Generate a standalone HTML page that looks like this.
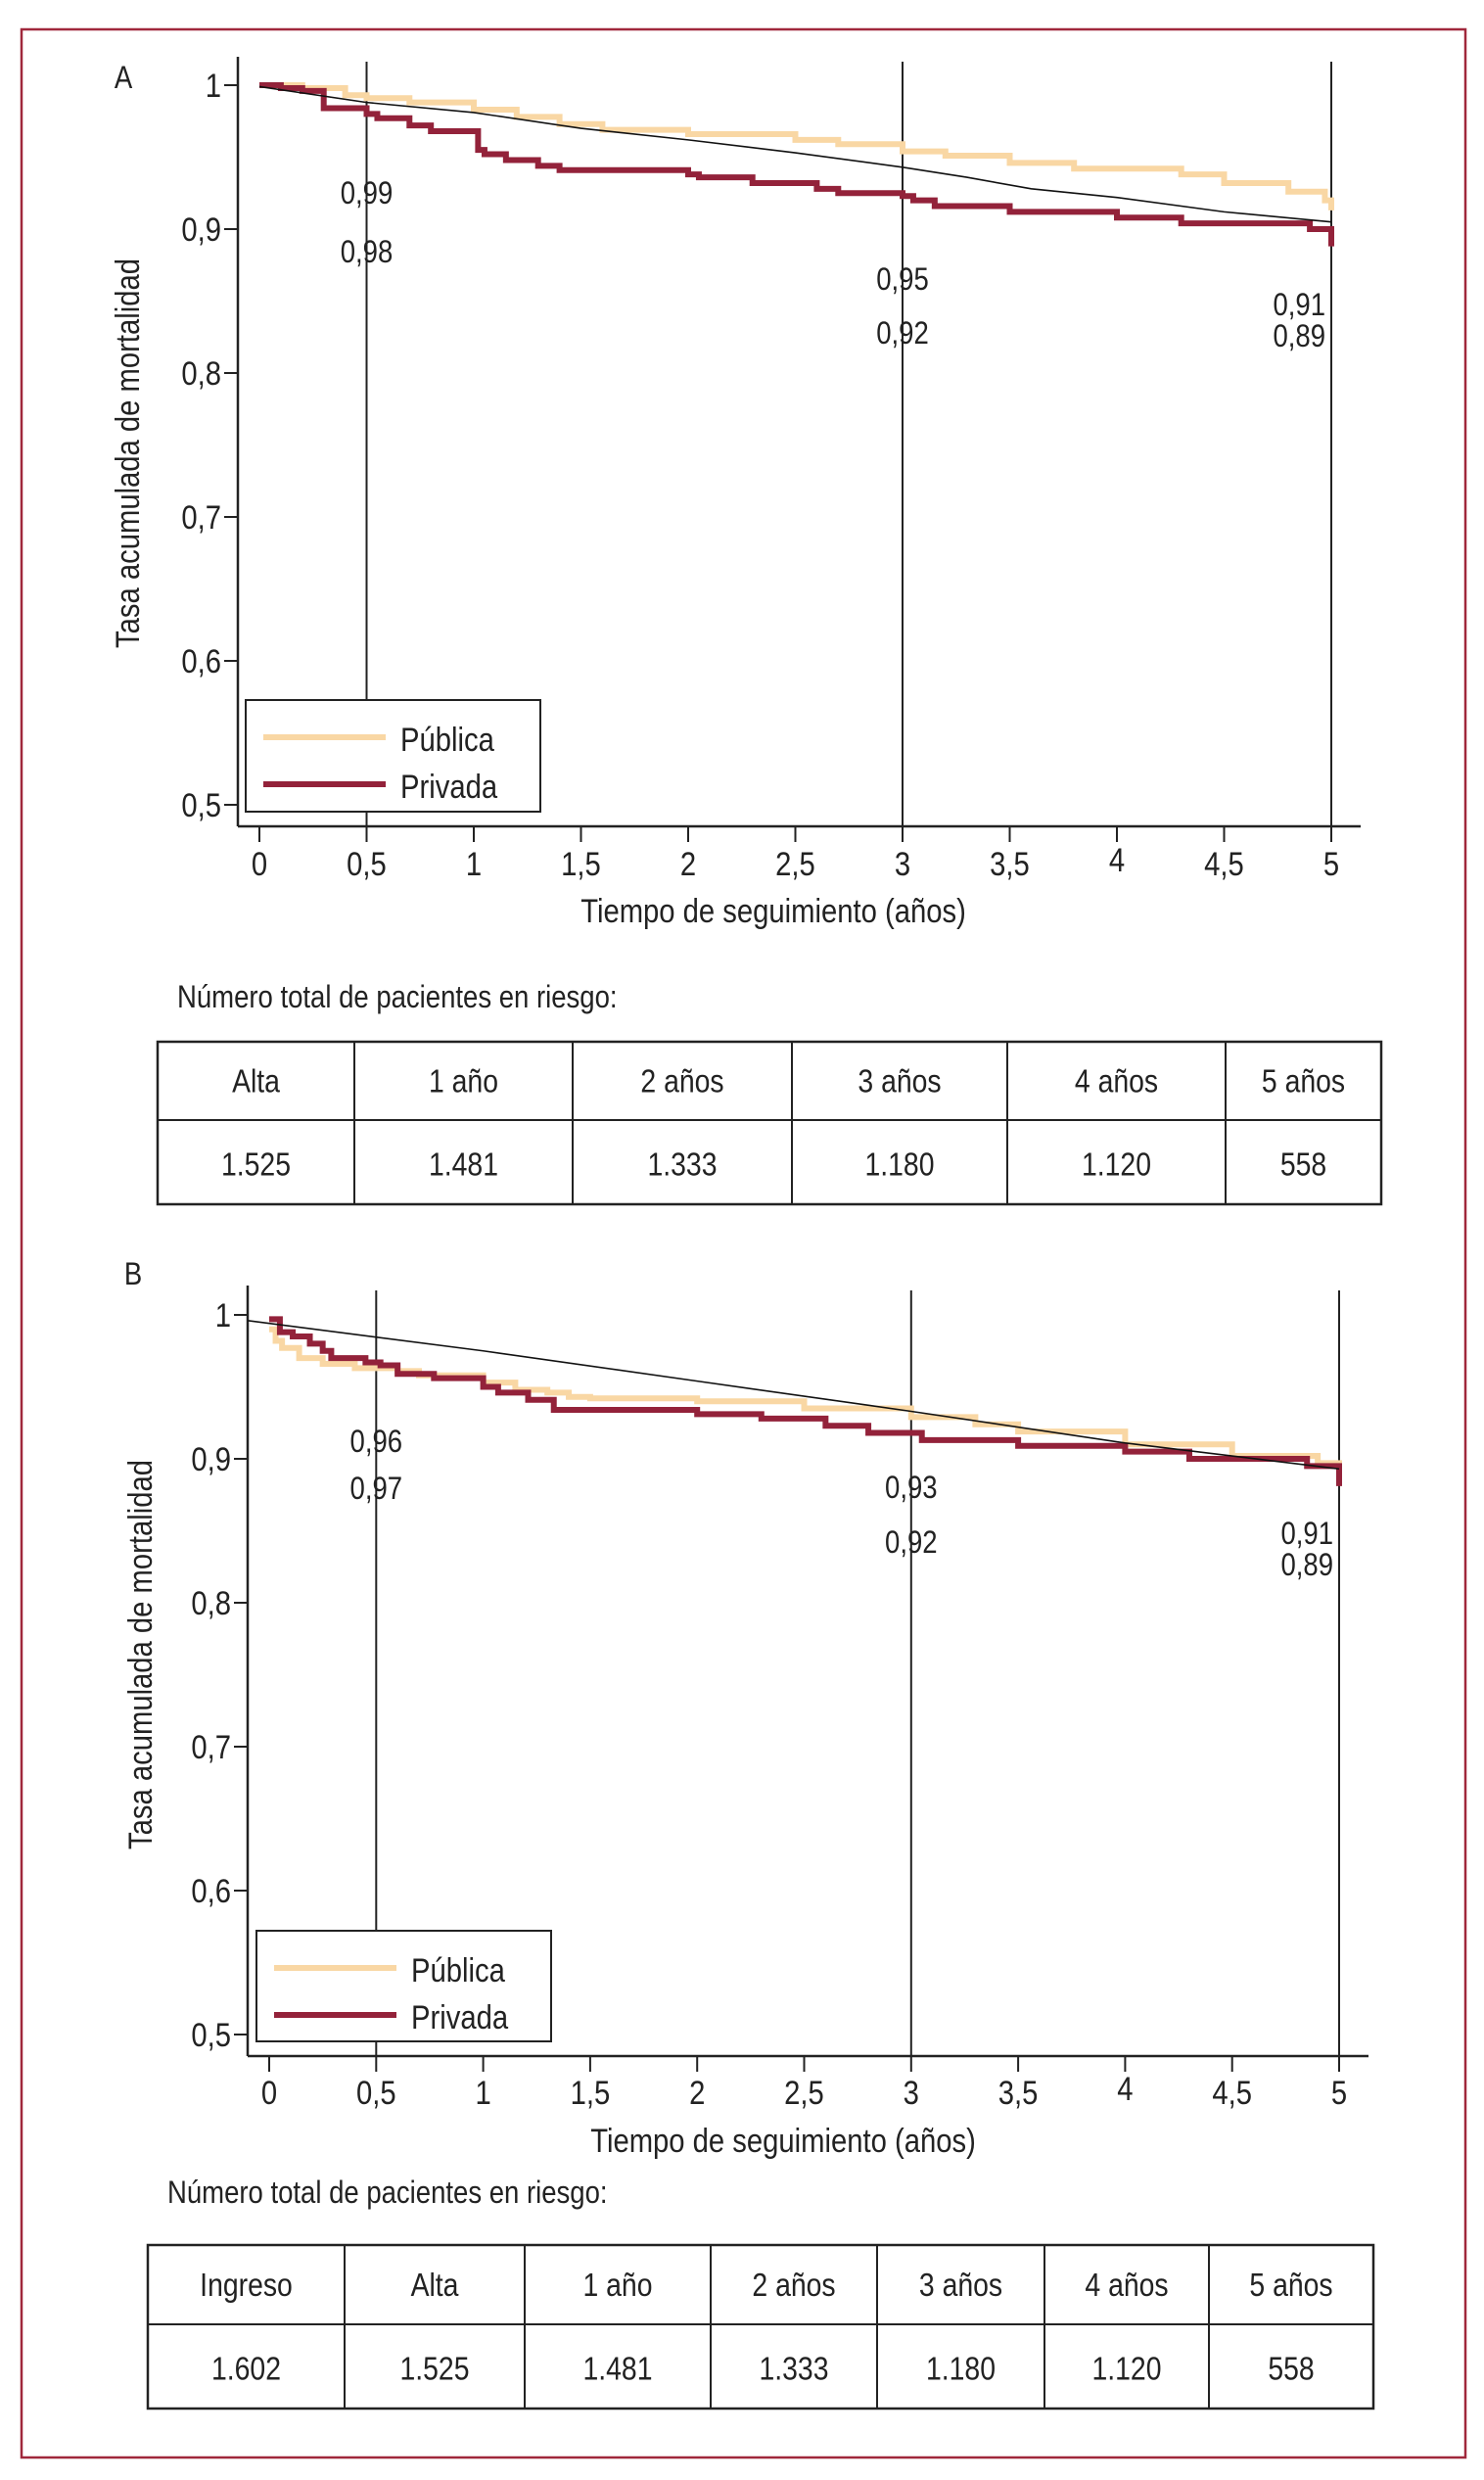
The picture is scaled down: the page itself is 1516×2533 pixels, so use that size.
<!DOCTYPE html>
<html><head><meta charset="utf-8"><style>
html,body{margin:0;padding:0;background:#fff;}
svg{display:block;}
text{font-family:"Liberation Sans Narrow","Liberation Sans",sans-serif;fill:#222;}
</style></head><body>
<svg id="fig" width="1516" height="2533" viewBox="0 0 1516 2533" xmlns="http://www.w3.org/2000/svg">
<rect x="22" y="30" width="1475" height="2480" fill="none" stroke="#a0283c" stroke-width="2.5"/>
<g id="panelA"></g>
<g id="panelB"></g>
<g id="tables"></g>
</svg>
<script>
// ---- Panel A data ----
const aPubT = [0,0.2,0.4,0.5,0.7,1.0,1.2,1.4,1.6,2.0,2.5,2.7,3.0,3.2,3.5,3.8,4.3,4.5,4.8,4.97,5.0];
const aPubV = [1.0,0.998,0.993,0.991,0.988,0.983,0.978,0.973,0.969,0.966,0.962,0.959,0.954,0.951,0.946,0.942,0.938,0.932,0.926,0.92,0.913];
const aPriT = [0,0.1,0.2,0.3,0.5,0.55,0.7,0.8,1.02,1.05,1.15,1.3,1.4,2.0,2.05,2.3,2.6,2.7,3.0,3.05,3.15,3.5,4.0,4.3,4.9,5.0];
const aPriV = [1.0,0.998,0.996,0.984,0.98,0.977,0.972,0.968,0.955,0.952,0.948,0.944,0.941,0.938,0.936,0.932,0.928,0.925,0.923,0.920,0.916,0.912,0.908,0.904,0.900,0.888];
const aRefT = [0,0.5,1,1.5,2,2.5,3,3.3,3.6,4,4.5,5];
const aRefV = [0.999,0.988,0.981,0.970,0.962,0.953,0.943,0.936,0.928,0.922,0.912,0.905];
const aLabels = [["0,99",0.5,198],["0,98",0.5,258],["0,95",3,286],["0,92",3,341],["0,91",5,312],["0,89",5,344]];
// ---- Panel B data ----
const bPubT = [0,0.03,0.06,0.14,0.25,0.4,0.6,0.7,1.0,1.15,1.3,1.4,1.5,2.0,2.5,3.0,3.3,3.5,4.0,4.5,4.9,5.0];
const bPubV = [0.99,0.982,0.977,0.970,0.966,0.963,0.961,0.958,0.953,0.948,0.946,0.943,0.942,0.940,0.935,0.929,0.924,0.919,0.910,0.902,0.897,0.895];
const bPriT = [0,0.05,0.11,0.19,0.25,0.29,0.45,0.52,0.6,0.77,1.0,1.07,1.21,1.33,2.0,2.3,2.6,2.8,3.05,3.5,4.0,4.3,4.85,5.0];
const bPriV = [0.997,0.988,0.985,0.980,0.975,0.970,0.967,0.965,0.959,0.956,0.950,0.946,0.941,0.934,0.931,0.928,0.923,0.918,0.913,0.909,0.905,0.900,0.895,0.881];
const bRefT = [-0.1,1,2,3,4,5];
const bRefV = [0.996,0.975,0.954,0.933,0.911,0.893];
const bLabels = [["0,96",0.5,1473],["0,97",0.5,1521],["0,93",3,1520],["0,92",3,1576],["0,91",5,1567],["0,89",5,1599]];
const xTicks = [0,0.5,1,1.5,2,2.5,3,3.5,4,4.5,5];
const xTickLabels = ["0","0,5","1","1,5","2","2,5","3","3,5","4","4,5","5"];
const yTicks = [1,0.9,0.8,0.7,0.6,0.5];
const yTickLabels = ["1","0,9","0,8","0,7","0,6","0,5"];
const tableAHead = ["Alta","1 año","2 años","3 años","4 años","5 años"];
const tableAVals = ["1.525","1.481","1.333","1.180","1.120","558"];
const tableBHead = ["Ingreso","Alta","1 año","2 años","3 años","4 años","5 años"];
const tableBVals = ["1.602","1.525","1.481","1.333","1.180","1.120","558"];

const NS="http://www.w3.org/2000/svg";
const SX=0.86;
function mk(tag, attrs, parent){const e=document.createElementNS(NS,tag);for(const k in attrs)e.setAttribute(k,attrs[k]);parent.appendChild(e);return e;}
function txt(s,x,y,size,anchor,parent,rot){
  const t=mk('text',{x:0,y:0,'font-size':size,'text-anchor':anchor||'middle','dominant-baseline':'central'},parent);
  t.setAttribute('transform','translate('+x+','+y+')'+(rot?' rotate(-90)':'')+' scale('+SX+',1)');
  t.textContent=s;return t;}

function drawPanel(g,cfg){
  const sx=t=>cfg.x0+(cfg.x5-cfg.x0)*t/5;
  const sy=v=>cfg.y1+(cfg.y05-cfg.y1)*(1-v)/0.5;
  const letter=txt(cfg.letter,cfg.letterX,cfg.letterY,32,'middle',g);
  
  
  const ya=mk('line',{x1:cfg.axX,y1:cfg.top-5,x2:cfg.axX,y2:cfg.axY,stroke:'#222','stroke-width':2.5},g);
  
  
  const xa=mk('line',{x1:cfg.axX,y1:cfg.axY,x2:cfg.axEnd,y2:cfg.axY,stroke:'#222','stroke-width':2.5},g);
  
  
  yTicks.forEach((v,i)=>{
    mk('line',{x1:cfg.axX-14,y1:sy(v),x2:cfg.axX,y2:sy(v),stroke:'#222','stroke-width':2},g);
    const t=txt(yTickLabels[i],cfg.axX-17,sy(v),34,'end',g);
    
    
  });
  xTicks.forEach((v,i)=>{
    mk('line',{x1:sx(v),y1:cfg.axY,x2:sx(v),y2:cfg.axY+16,stroke:'#222','stroke-width':2},g);
    const t=txt(xTickLabels[i],sx(v),cfg.tickY+(v===4?-4:0),34,'middle',g);
    
    
  });
  const xt=txt('Tiempo de seguimiento (años)',cfg.xTitleX,cfg.xTitleY,34,'middle',g);
  
  
  const yt=txt('Tasa acumulada de mortalidad',cfg.yTitleX,cfg.yTitleY,34,'middle',g,true);
  
  
  [0.5,3,5].forEach(t=>{
    const l=mk('line',{x1:sx(t),y1:cfg.top,x2:sx(t),y2:cfg.axY,stroke:'#222','stroke-width':2},g);
    
    
  });
  function step(T,V){let d='M'+sx(T[0])+','+sy(V[0]);for(let i=1;i<T.length;i++){d+=' H'+sx(T[i])+' V'+sy(V[i]);}return d;}
  function poly(T,V){return T.map((t,i)=>(i?'L':'M')+sx(t)+','+sy(V[i])).join(' ');}
  const pub=mk('path',{d:step(cfg.pubT,cfg.pubV),fill:'none',stroke:'#f9d7a4','stroke-width':6},g);
  
  
  const pri=mk('path',{d:step(cfg.priT,cfg.priV),fill:'none',stroke:'#93223a','stroke-width':6},g);
  
  
  const ref=mk('path',{d:poly(cfg.refT,cfg.refV),fill:'none',stroke:'#111','stroke-width':1.6},g);
  
  
  cfg.labels.forEach(L=>{
    const t=txt(L[0],sx(L[1])+(L[1]===5?-6:0),L[2],32,L[1]===5?'end':'middle',g);
    
    
  });
  const lg=mk('g',{},g);
  
  
  mk('rect',{x:cfg.lgX,y:cfg.lgY,width:301,height:cfg.lgH,fill:'#fff',stroke:'#222','stroke-width':2},lg);
  mk('line',{x1:cfg.lgX+18,y1:cfg.lgY+38,x2:cfg.lgX+143,y2:cfg.lgY+38,stroke:'#f9d7a4','stroke-width':6},lg);
  mk('line',{x1:cfg.lgX+18,y1:cfg.lgY+86,x2:cfg.lgX+143,y2:cfg.lgY+86,stroke:'#93223a','stroke-width':6},lg);
  const l1=txt('Pública',cfg.lgX+158,cfg.lgY+40,34,'start',lg);
  
  
  const l2=txt('Privada',cfg.lgX+158,cfg.lgY+88,34,'start',lg);
  
  
}
drawPanel(document.getElementById('panelA'),{letter:'A',letterX:126,letterY:80,x0:265,x5:1360,y1:87,y05:822,axX:243,axY:844,axEnd:1390,top:63,tickY:882,xTitleX:790,xTitleY:930,yTitleX:130,yTitleY:463,
  pubT:aPubT,pubV:aPubV,priT:aPriT,priV:aPriV,refT:aRefT,refV:aRefV,labels:aLabels,lgX:251,lgY:715,lgH:114});
drawPanel(document.getElementById('panelB'),{letter:'B',letterX:136,letterY:1302,x0:275,x5:1368,y1:1343,y05:2078,axX:253,axY:2100,axEnd:1398,top:1318,tickY:2137,xTitleX:800,xTitleY:2186,yTitleX:143,yTitleY:1690,
  pubT:bPubT,pubV:bPubV,priT:bPriT,priV:bPriV,refT:bRefT,refV:bRefV,labels:bLabels,lgX:262,lgY:1972,lgH:113});

function drawTable(g,cap,capX,capY,xs,top,mid,bot,head,vals){
  const c=txt(cap,capX,capY,32,'start',g);
  
  
  const tg=mk('g',{},g);
  
  
  mk('rect',{x:xs[0],y:top,width:xs[xs.length-1]-xs[0],height:bot-top,fill:'none',stroke:'#222','stroke-width':2.5},tg);
  mk('line',{x1:xs[0],y1:mid,x2:xs[xs.length-1],y2:mid,stroke:'#222','stroke-width':2},tg);
  for(let i=1;i<xs.length-1;i++) mk('line',{x1:xs[i],y1:top,x2:xs[i],y2:bot,stroke:'#222','stroke-width':2},tg);
  head.forEach((h,i)=>{const cx=(xs[i]+xs[i+1])/2;
    const a=txt(h,cx,(top+mid)/2,33,'middle',tg);
    
    
    const b=txt(vals[i],cx,(mid+bot)/2+2,33,'middle',tg);
    
    
  });
}
const T=document.getElementById('tables');
drawTable(T,'Número total de pacientes en riesgo:',181,1019,[161,362,585,809,1029,1252,1411],1064,1144,1230,tableAHead,tableAVals);
drawTable(T,'Número total de pacientes en riesgo:',171,2240,[151,352,536,726,896,1067,1235,1403],2293,2374,2460,tableBHead,tableBVals);
</script>
</body></html>
